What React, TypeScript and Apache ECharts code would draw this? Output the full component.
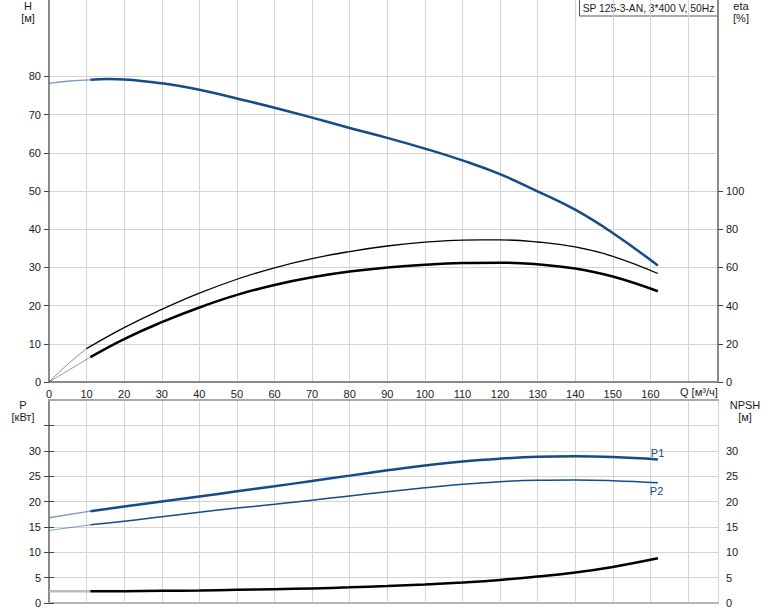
import React, { useEffect, useRef } from "react";
import * as echarts from "echarts";

// Flow values (m³/h) for the main curves
const qMain = [11, 20, 30, 40, 50, 60, 70, 80, 90, 100, 110, 120, 130, 140, 150, 162];
const qHead = [11, 16, 20, 30, 40, 50, 60, 70, 80, 90, 100, 110, 120, 130, 140, 150, 162];
const headH = [79.1, 79.3, 79.2, 78.2, 76.5, 74.2, 71.8, 69.2, 66.5, 63.9, 61.1, 58.0, 54.4, 49.9, 45.1, 39.0, 30.5];
const etaTotal = [13.0, 22.5, 31.3, 39.0, 45.6, 50.8, 54.8, 57.8, 59.9, 61.4, 62.3, 62.5, 61.6, 59.4, 55.2, 47.5];
const powerP1 = [18.1, 19.0, 20.0, 21.0, 22.0, 23.0, 24.05, 25.1, 26.15, 27.1, 27.9, 28.45, 28.8, 28.9, 28.75, 28.3];
const powerP2 = [15.4, 16.1, 17.0, 17.9, 18.7, 19.45, 20.25, 21.1, 21.9, 22.7, 23.4, 23.9, 24.2, 24.25, 24.1, 23.7];
const npsh = [2.3, 2.33, 2.4, 2.48, 2.6, 2.72, 2.88, 3.08, 3.33, 3.65, 4.05, 4.55, 5.2, 6.0, 7.1, 8.8];

// Pump (hydraulic) efficiency curve
const qEtaPump = [10, 20, 30, 40, 50, 60, 70, 80, 90, 100, 110, 120, 130, 140, 150, 162];
const etaPump = [17.5, 28.5, 38.0, 46.5, 53.8, 59.8, 64.6, 68.3, 71.2, 73.2, 74.3, 74.4, 73.3, 70.7, 65.8, 56.8];

// Lead-in segments (outside operating range)
const qLeadH = [0, 5.5, 11];
const leadH = [78.2, 78.8, 79.1];
const qLeadEtaPump = [0, 5, 10];
const leadEtaPump = [0, 9.3, 17.5];
const qLeadEtaTotal = [0, 11];
const leadEtaTotal = [0, 13.0];
const qLead = [0, 11];
const leadP1 = [16.8, 18.1];
const leadP2 = [14.3, 15.4];
const leadNpsh = [2.3, 2.3];

// Ticks
const qTicks = [0, 10, 20, 30, 40, 50, 60, 70, 80, 90, 100, 110, 120, 130, 140, 150, 160];
const hTicks = [0, 10, 20, 30, 40, 50, 60, 70, 80];
const etaTicks = [0, 20, 40, 60, 80, 100];
const pTicks = [0, 5, 10, 15, 20, 25, 30, 35];
const pLabels = [0, 5, 10, 15, 20, 25, 30];

const title = "SP 125-3-AN, 3*400 V, 50Hz";

const BLUE = "#154b88";
const FONT = "Liberation Sans, Arial, sans-serif";
const TXT = "#1a1a1a";
const GRIDC = "#d4d4d4";
const AXC = "#8a8a8a";

const zip = (xs: number[], ys: number[]) => xs.map((x, i) => [x, ys[i]]);

export default function App() {
  const ref = useRef<HTMLDivElement>(null);
  useEffect(() => {
    if (!ref.current) return;
    const chart = echarts.init(ref.current, undefined, { renderer: "svg" });
    const labelStyle = { color: TXT, fontSize: 11, fontFamily: FONT };
    const yBase = (gridIndex: number, position: "left" | "right", max: number, interval: number, ticks: number[], labels: number[], split: boolean) => ({
      type: "value",
      gridIndex,
      position,
      min: 0,
      max,
      interval,
      axisLine: { show: true, lineStyle: { color: AXC, width: 2 } },
      axisTick: { show: true, inside: false, length: 5, customValues: ticks, lineStyle: { color: "#444" } },
      axisLabel: { ...labelStyle, margin: 8, customValues: labels },
      splitLine: { show: split, lineStyle: { color: GRIDC, width: 1 } },
    });
    const line = (name: string, x: number, y: number, data: any[], color: string, width: number, opacity = 1, extra: any = {}) => ({
      name,
      type: "line",
      xAxisIndex: x,
      yAxisIndex: y,
      data,
      smooth: 0.45,
      showSymbol: false,
      symbol: "none",
      lineStyle: { color, width, opacity },
      z: 3,
      ...extra,
    });
    const endLabel = (text: string, offset: number[]) => ({
      endLabel: { show: true, formatter: text, distance: 5, offset, color: BLUE, fontSize: 11, fontFamily: FONT },
    });

    const nameText = (text: string, x: number, y: number) => ({
      type: "text",
      x,
      y,
      style: { text, fill: TXT, font: `11px ${FONT}`, align: "center", verticalAlign: "middle" },
    });

    chart.setOption({
      animation: false,
      backgroundColor: "#ffffff",
      textStyle: { fontFamily: FONT },
      grid: [
        { left: 49, top: 0, width: 669, height: 382 },
        { left: 49, top: 400, width: 669, height: 203 },
      ],
      xAxis: [
        {
          type: "value",
          gridIndex: 0,
          position: "bottom",
          min: 0,
          max: 178,
          interval: 10,
          axisLine: { show: true, onZero: false, lineStyle: { color: AXC, width: 2 } },
          axisTick: { show: false },
          axisLabel: { ...labelStyle, margin: 6, customValues: qTicks },
          splitLine: { show: true, lineStyle: { color: GRIDC, width: 1 } },
        },
        {
          type: "value",
          gridIndex: 1,
          position: "bottom",
          min: 0,
          max: 178,
          interval: 10,
          axisLine: { show: true, onZero: false, lineStyle: { color: "#b5b5b5", width: 2 } },
          axisTick: { show: false },
          axisLabel: { show: false },
          splitLine: { show: true, lineStyle: { color: GRIDC, width: 1 } },
        },
        {
          type: "value",
          gridIndex: 1,
          position: "top",
          min: 0,
          max: 178,
          interval: 10,
          axisLine: { show: true, onZero: false, lineStyle: { color: "#a8a8a8", width: 2 } },
          axisTick: { show: false },
          axisLabel: { show: false },
          splitLine: { show: false },
        },
      ],
      yAxis: [
        yBase(0, "left", 100, 10, hTicks, hTicks, true),
        yBase(0, "right", 200, 20, etaTicks, etaTicks, false),
        yBase(1, "left", 40, 5, pTicks, pLabels, true),
        yBase(1, "right", 40, 5, pTicks, pLabels, false),
      ],
      series: [
        line("H lead", 0, 0, zip(qLeadH, leadH), BLUE, 1.3, 0.55),
        line("H", 0, 0, zip(qHead, headH), BLUE, 2.5),
        line("eta pump lead", 0, 1, zip(qLeadEtaPump, leadEtaPump), "#000", 1, 0.45),
        line("eta pump", 0, 1, zip(qEtaPump, etaPump), "#000", 1.3),
        line("eta total lead", 0, 1, zip(qLeadEtaTotal, leadEtaTotal), "#000", 1, 0.4),
        line("eta total", 0, 1, zip(qMain, etaTotal), "#000", 2.5),
        line("P1 lead", 1, 2, zip(qLead, leadP1), BLUE, 1.3, 0.55),
        line("P1", 1, 2, zip(qMain, powerP1), BLUE, 2.5, 1, endLabel("P1", [-12, -6])),
        line("P2 lead", 1, 2, zip(qLead, leadP2), BLUE, 1, 0.55),
        line("P2", 1, 2, zip(qMain, powerP2), BLUE, 1.5, 1, endLabel("P2", [-13, 8])),
        line("NPSH lead", 1, 3, zip(qLead, leadNpsh), "#bdbdbd", 2.5, 1),
        line("NPSH", 1, 3, zip(qMain, npsh), "#000", 2.5),
      ],
      graphic: [
        nameText("H", 28, 6),
        nameText("[м]", 28, 18),
        nameText("eta", 741, 6),
        nameText("[%]", 741, 18),
        nameText("P", 23, 405),
        nameText("[кВт]", 23, 417),
        nameText("NPSH", 745, 405),
        nameText("[м]", 745, 417),
        {
          type: "text",
          x: 680,
          y: 392,
          style: { text: "Q [м³/ч]", fill: TXT, font: `11px ${FONT}`, align: "left", verticalAlign: "middle" },
        },
        {
          type: "group",
          z: 100,
          children: [
            { type: "rect", shape: { x: 579.5, y: -1, width: 138, height: 17 }, style: { fill: "#ffffff", stroke: "#555", lineWidth: 1 } },
            { type: "text", x: 648.5, y: 8, style: { text: title, fill: TXT, font: `10.3px ${FONT}`, align: "center", verticalAlign: "middle" } },
          ],
        },
      ],
    });
    return () => chart.dispose();
  }, []);
  return <div ref={ref} style={{ position: "absolute", left: 0, top: 0, width: 774, height: 611 }} />;
}
